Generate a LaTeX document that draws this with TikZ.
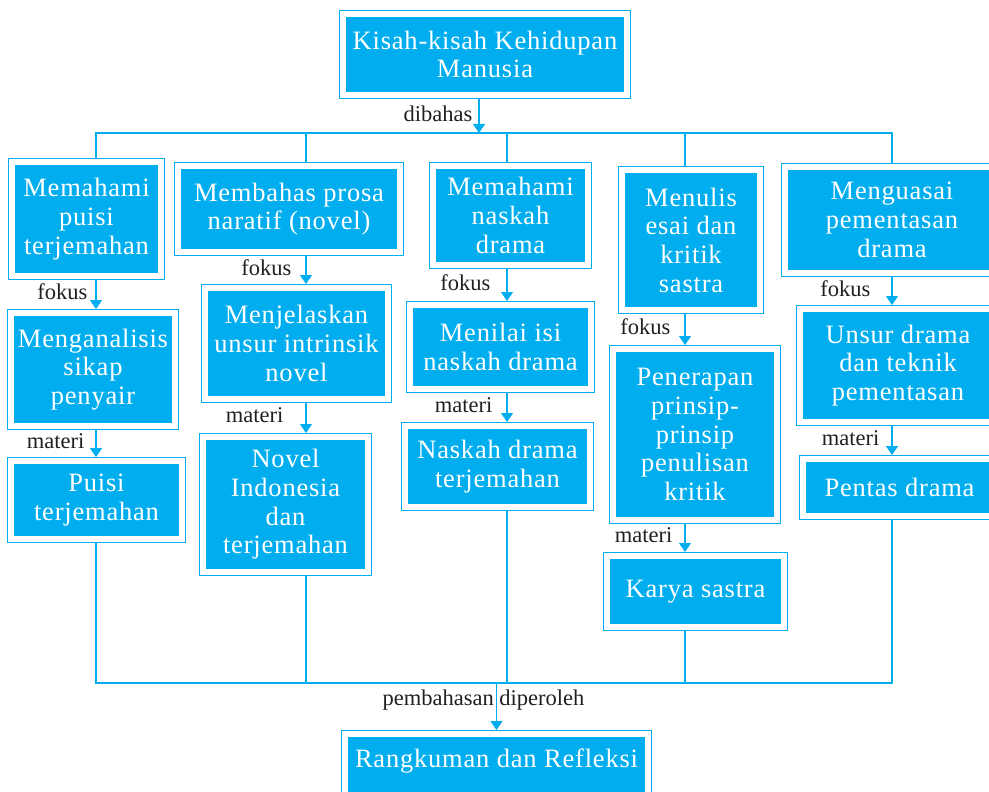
\documentclass[tikz,border=0pt]{standalone}
\usepackage{fontspec}
\setmainfont{Liberation Serif}
\newfontfamily\topicfamily[LetterSpace=3]{Liberation Serif}
\usepackage{xcolor}
\usepackage{tikz}
\usetikzlibrary{arrows.meta, positioning}

\definecolor{kcyan}{HTML}{00AEEF}
\definecolor{kink}{HTML}{231F20}
\newcommand{\topicfont}{\topicfamily\fontsize{26.5}{28.7}\selectfont}
\newcommand{\notefont}{\fontsize{22.5}{26}\selectfont}

\begin{document}
\begin{tikzpicture}[x=1pt, y=-1pt]
    % Define styles
    \tikzstyle{topic} = [rectangle, fill=kcyan, draw=kcyan, double=white, double distance=6pt, line width=1.2pt, outer sep=4.2pt, inner sep=0pt, align=center, text=white, font=\topicfont]
    \tikzstyle{note} = [inner sep=0pt, yshift=2.5pt, text=kink, font=\notefont]
    \tikzstyle{link} = [draw=kcyan, line width=1.3pt]
    \tikzstyle{arrow} = [link, -{Triangle[width=12pt, length=9pt]}]

    \path[use as bounding box, clip] (0,0) rectangle (989,792);

    % Column lines and buses
    \coordinate (c0) at (479,0);
    \coordinate (c1) at (96,0);
    \coordinate (c2) at (306,0);
    \coordinate (c3) at (507,0);
    \coordinate (c4) at (685,0);
    \coordinate (c5) at (892,0);
    \coordinate (busA) at (0,133);
    \coordinate (busB) at (0,683);

    % Theme
    \node[topic, minimum width=283.6pt, minimum height=80.6pt] (top) at (485,54.5) {Kisah-kisah Kehidupan\\Manusia};

    % Competences
    \node[topic, minimum width=148.6pt, minimum height=113.6pt] (k1) at (86.5,219) {Memahami\\puisi\\terjemahan};
    \node[topic, minimum width=221.6pt, minimum height=85.6pt] (k2) at (289,209) {Membahas prosa\\naratif (novel)};
    \node[topic, minimum width=154.6pt, minimum height=98.6pt] (k3) at (510.5,215.5) {Memahami\\naskah\\drama};
    \node[topic, minimum width=137.6pt, minimum height=139.6pt] (k4) at (691,240) {Menulis\\esai dan\\kritik\\sastra};
    \node[topic, minimum width=213.6pt, minimum height=105.6pt] (k5) at (892,220) {Menguasai\\pementasan\\drama};

    % Focus
    \node[topic, minimum width=163.6pt, minimum height=112.6pt] (f1) at (93,369.5) {Menganalisis\\sikap\\penyair};
    \node[topic, minimum width=182.6pt, minimum height=110.6pt] (f2) at (296.5,343.5) {Menjelaskan\\unsur intrinsik\\novel};
    \node[topic, minimum width=180.6pt, minimum height=83.6pt] (f3) at (500.5,347) {Menilai isi\\naskah drama};
    \node[topic, minimum width=163.6pt, minimum height=170.6pt] (f4) at (695,434.5) {Penerapan\\prinsip-\\prinsip\\penulisan\\kritik};
    \node[topic, minimum width=195.6pt, minimum height=112.6pt] (f5) at (898,365.5) {Unsur drama\\dan teknik\\pementasan};

    % Materials
    \node[topic, minimum width=170.6pt, minimum height=77.6pt] (m1) at (96.5,500) {Puisi\\terjemahan};
    \node[topic, minimum width=164.6pt, minimum height=134.6pt] (m2) at (285.5,504.5) {Novel\\Indonesia\\dan\\terjemahan};
    \node[topic, minimum width=184.6pt, minimum height=80.6pt] (m3) at (497.5,466.5) {Naskah drama\\terjemahan};
    \node[topic, minimum width=176.6pt, minimum height=70.6pt] (m4) at (695.5,591.5) {Karya sastra};
    \node[topic, minimum width=192.6pt, minimum height=56.6pt] (m5) at (899.5,487.5) {Pentas drama};

    % Summary
    \node[topic, minimum width=302.6pt, minimum height=67.6pt, text depth=20pt] (hasil) at (496.5,768) {Rangkuman dan Refleksi};

    % Arrows
    \draw[arrow] (top.south -| c0) -- node[note, left=6pt] {dibahas} (c0 |- busA);
    \draw[link] (k1.north -| c1) |- (c5 |- busA) -- (k5.north -| c5);
    \draw[link] (c2 |- busA) -- (k2.north -| c2);
    \draw[link] (c3 |- busA) -- (k3.north -| c3);
    \draw[link] (c4 |- busA) -- (k4.north -| c4);

    \draw[arrow] (k1.south -| c1) -- node[note, left=8pt] {fokus} (f1.north -| c1);
    \draw[arrow] (k2.south -| c2) -- node[note, left=14pt] {fokus} (f2.north -| c2);
    \draw[arrow] (k3.south -| c3) -- node[note, left=16pt] {fokus} (f3.north -| c3);
    \draw[arrow] (k4.south -| c4) -- node[note, left=14pt] {fokus} (f4.north -| c4);
    \draw[arrow] (k5.south -| c5) -- node[note, left=21pt] {fokus} (f5.north -| c5);

    \draw[arrow] (f1.south -| c1) -- node[note, left=11pt] {materi} (m1.north -| c1);
    \draw[arrow] (f2.south -| c2) -- node[note, left=22pt] {materi} (m2.north -| c2);
    \draw[arrow] (f3.south -| c3) -- node[note, left=14pt] {materi} (m3.north -| c3);
    \draw[arrow] (f4.south -| c4) -- node[note, left=12pt] {materi} (m4.north -| c4);
    \draw[arrow] (f5.south -| c5) -- node[note, left=12pt] {materi} (m5.north -| c5);

    \draw[link] (m1.south -| c1) |- (c5 |- busB) -- (m5.south -| c5);
    \draw[link] (m2.south -| c2) -- (c2 |- busB);
    \draw[link] (m3.south -| c3) -- (c3 |- busB);
    \draw[link] (m4.south -| c4) -- (c4 |- busB);
    \draw[arrow] (hasil.north |- busB) -- node[note, xshift=-13pt, yshift=4pt] {pembahasan diperoleh} (hasil.north);

\end{tikzpicture}
\end{document}
